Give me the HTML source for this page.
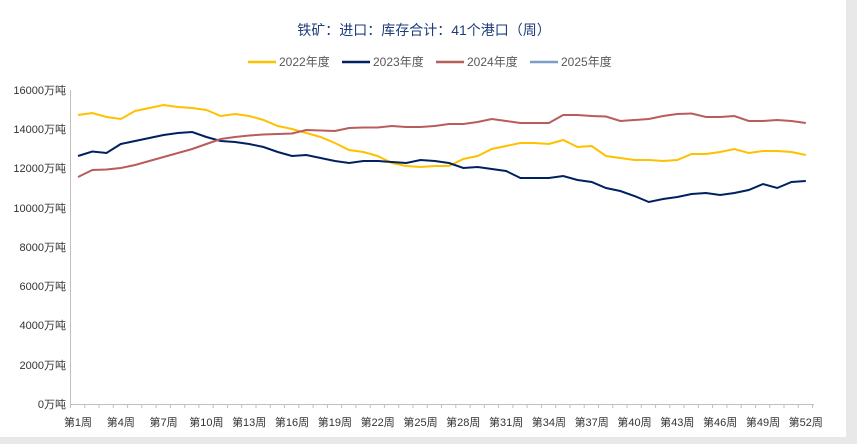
<!DOCTYPE html>
<html><head><meta charset="utf-8"><style>
body{margin:0;background:#e8e8e8;}
#c{position:absolute;left:0;top:0;width:846px;height:437px;background:#fff;}
svg{position:absolute;left:0;top:0;font-family:"Liberation Sans","Noto Sans CJK SC",sans-serif;}
</style></head><body><div id="c"></div>
<svg width="857" height="444" viewBox="0 0 857 444">
<text x="424" y="35" text-anchor="middle" font-size="14" fill="#1f3d7a">铁矿：进口：库存合计：41个港口（周）</text>
<g font-size="12" fill="#595959">
<line x1="248" y1="62" x2="276" y2="62" stroke="#FFC000" stroke-width="2.5"/><text x="279" y="66">2022年度</text>
<line x1="342" y1="62" x2="370" y2="62" stroke="#002060" stroke-width="2.5"/><text x="373" y="66">2023年度</text>
<line x1="436" y1="62" x2="464" y2="62" stroke="#B85C5C" stroke-width="2.5"/><text x="467" y="66">2024年度</text>
<line x1="530" y1="62" x2="558" y2="62" stroke="#7F9CC8" stroke-width="2.5"/><text x="561" y="66">2025年度</text>
</g>
<g font-size="11" fill="#333" text-anchor="end">
<text x="66" y="408">0万吨</text><text x="66" y="369">2000万吨</text><text x="66" y="329">4000万吨</text><text x="66" y="290">6000万吨</text><text x="66" y="251">8000万吨</text><text x="66" y="212">10000万吨</text><text x="66" y="172">12000万吨</text><text x="66" y="133">14000万吨</text><text x="66" y="94">16000万吨</text>
</g>
<line x1="70.5" y1="90" x2="70.5" y2="404" stroke="#bfbfbf"/>
<line x1="70" y1="404.5" x2="814" y2="404.5" stroke="#bfbfbf"/>
<g id="ticks" stroke="#bfbfbf"></g>
<g font-size="11" fill="#333" text-anchor="middle" id="xl"></g>
<polyline id="p22" fill="none" stroke="#FFC000" stroke-width="2"/>
<polyline id="p23" fill="none" stroke="#002060" stroke-width="2"/>
<polyline id="p24" fill="none" stroke="#B85C5C" stroke-width="2"/>
</svg>
<script>
var a=[115,113,117,119,111,108,105,107,108,110,116,114,116,120,126,129,133,137,143,150,152,156,163,166,167,166,166,159,156,149,146,143,143,144,140,147,146,156,158,160,160,161,160,154,154,152,149,153,151,151,152,155];
var b=[156,151.5,153,144,141,138,135,133,132,137,141,142,144,147,152,156,155,158,161,163,161,161,162,163,160,161,163,168,167,169,171,178,178,178,176,180,182,188,191,196,202,199,197,194,193,195,193,190,184,188,182,181];
var c=[177,170,169.5,168,165,161,157,153,149,144,139,137,135.5,134.5,134,133.5,130,130.5,131,128,127.5,127.5,126,127,127,126,124,124,122,119,121,123,123,123,115,115,116,116.5,121,120,119,116,114,113.5,117,117,116,121,121,120,121,123];
function X(i){return 78+i*14.27;}
function pts(v){return v.map(function(y,i){return X(i).toFixed(1)+","+y}).join(" ");}
document.getElementById("p22").setAttribute("points",pts(a));
document.getElementById("p23").setAttribute("points",pts(b));
document.getElementById("p24").setAttribute("points",pts(c));
var t="",l="";
for(var i=0;i<=52;i++){var x=(70.5+i*14.27).toFixed(1);t+='<line x1="'+x+'" y1="404" x2="'+x+'" y2="408"/>';}
for(var w=1;w<=52;w+=3){l+='<text x="'+X(w-1).toFixed(1)+'" y="426">第'+w+'周</text>';}
document.getElementById("ticks").innerHTML=t;document.getElementById("xl").innerHTML=l;
</script>
</body></html>
